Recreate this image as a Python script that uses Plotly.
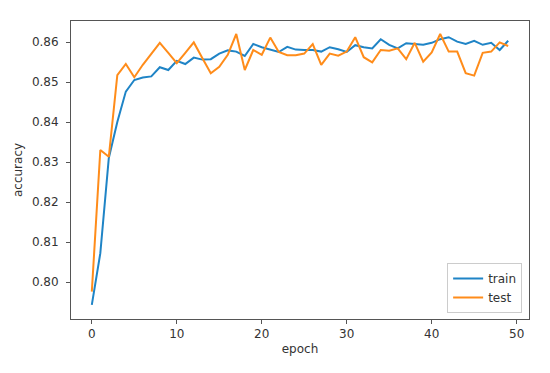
import plotly.graph_objects as go

epochs = list(range(50))

train = [0.7943, 0.8072, 0.8310, 0.8400, 0.8476, 0.8505, 0.8511, 0.8514, 0.8537, 0.8530,
         0.8553, 0.8545, 0.8561, 0.8556, 0.8557, 0.8571, 0.8579, 0.8576, 0.8565, 0.8595,
         0.8587, 0.8581, 0.8575, 0.8588, 0.8581, 0.8580, 0.8580, 0.8576, 0.8587, 0.8582,
         0.8575, 0.8592, 0.8587, 0.8584, 0.8607, 0.8593, 0.8584, 0.8597, 0.8595, 0.8593,
         0.8598, 0.8607, 0.8612, 0.8601, 0.8595, 0.8603, 0.8593, 0.8598, 0.8580, 0.8603]

test = [0.7976, 0.8330, 0.8313, 0.8517, 0.8545, 0.8512, 0.8543, 0.8570, 0.8598, 0.8573,
        0.8547, 0.8573, 0.8599, 0.8560, 0.8522, 0.8538, 0.8568, 0.8620, 0.8530, 0.8580,
        0.8568, 0.8611, 0.8575, 0.8567, 0.8567, 0.8571, 0.8595, 0.8543, 0.8571, 0.8566,
        0.8576, 0.8612, 0.8562, 0.8549, 0.8580, 0.8578, 0.8584, 0.8557, 0.8598, 0.8551,
        0.8574, 0.8620, 0.8576, 0.8576, 0.8522, 0.8516, 0.8573, 0.8576, 0.8599, 0.8590]

x_ticks = [0, 10, 20, 30, 40, 50]
y_ticks = [0.80, 0.81, 0.82, 0.83, 0.84, 0.85, 0.86]

fig = go.Figure()
fig.add_trace(go.Scatter(x=epochs, y=train, mode="lines", name="train",
                         line=dict(color="#1f84c6", width=2)))
fig.add_trace(go.Scatter(x=epochs, y=test, mode="lines", name="test",
                         line=dict(color="#ff8c1a", width=2)))

axis_common = dict(showgrid=False, zeroline=False, showline=True, linecolor="#555555",
                   linewidth=1, mirror=True, ticks="outside", ticklen=4, tickcolor="#555555",
                   automargin=False,
                   tickfont=dict(family="DejaVu Sans", size=12, color="#333333"))

fig.update_layout(
    width=550, height=373,
    margin=dict(l=63, r=29, t=13, b=62),
    paper_bgcolor="white", plot_bgcolor="white",
    font=dict(family="DejaVu Sans", size=12, color="#333333"),
    xaxis=dict(range=[-2.45, 51.45], tickvals=x_ticks,
               title=dict(text="epoch", standoff=4, font=dict(size=12)), **axis_common),
    yaxis=dict(range=[0.79075, 0.86525], tickvals=y_ticks, tickformat=".2f",
               ticklabelstandoff=5,
               title=dict(text="accuracy", standoff=6, font=dict(size=12)), **axis_common),
    legend=dict(x=0.985, y=0.02, xanchor="right", yanchor="bottom",
                bgcolor="white", bordercolor="#cccccc", borderwidth=1,
                font=dict(size=12, color="#333333"), tracegroupgap=2),
    showlegend=True,
)

fig.write_html("out.html")
